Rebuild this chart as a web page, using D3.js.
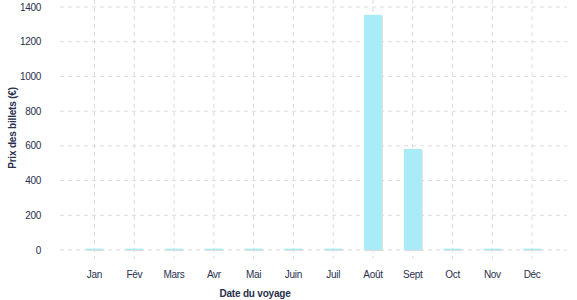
<!doctype html>
<html>
<head>
<meta charset="utf-8">
<script src="https://d3js.org/d3.v7.min.js"></script>
<style>
body { margin: 0; background: #fff; }
text { font-family: "Liberation Sans", Arial, sans-serif; fill: #28304d; }
</style>
</head>
<body>
<svg id="chart" width="577" height="300"></svg>
<script>
// data
var months = ["Jan", "Fév", "Mars", "Avr", "Mai", "Juin", "Juil", "Août", "Sept", "Oct", "Nov", "Déc"];
var prices = [8, 8, 8, 8, 8, 8, 8, 1355, 582, 8, 8, 8];
var yTicks = [0, 200, 400, 600, 800, 1000, 1200, 1400];

var svg = d3.select("#chart");

var x = d3.scaleBand().domain(months).range([74.6, 552]).paddingInner(0.55).paddingOuter(0.275);
var y = d3.scaleLinear().domain([0, 1400]).range([250, 7]);

// grid
var grid = svg.append("g");
grid.selectAll(".hg").data(yTicks).enter().append("line")
  .attr("x1", 60).attr("x2", 567)
  .attr("y1", function(d) { return y(d); }).attr("y2", function(d) { return y(d); })
  .style("stroke", "#dcdcdc").style("stroke-dasharray", "4,4");
grid.selectAll(".vg").data(months).enter().append("line")
  .attr("x1", function(d) { return x(d) + x.bandwidth() / 2; })
  .attr("x2", function(d) { return x(d) + x.bandwidth() / 2; })
  .attr("y1", 0).attr("y2", 259)
  .style("stroke", "#dcdcdc").style("stroke-dasharray", "4,4");

// bars (with a little grey shadow)
var bars = svg.append("g");
bars.selectAll(".sh").data(prices).enter().append("rect")
  .attr("x", function(d, i) { return x(months[i]) + 1; })
  .attr("y", function(d) { return y(d) + 1; })
  .attr("width", x.bandwidth())
  .attr("height", function(d) { return y(0) - y(d); })
  .style("fill", "#dddddd");
bars.selectAll(".bar").data(prices).enter().append("rect")
  .attr("x", function(d, i) { return x(months[i]); })
  .attr("y", function(d) { return y(d); })
  .attr("width", x.bandwidth())
  .attr("height", function(d) { return y(0) - y(d); })
  .style("fill", "#a9ecf8");

// y tick labels
svg.append("g").selectAll("text").data(yTicks).enter().append("text")
  .attr("x", 41).attr("y", function(d) { return y(d) + 3.5; })
  .attr("text-anchor", "end")
  .style("font-size", "10px").style("letter-spacing", "-0.3px")
  .text(function(d) { return d; });

// x tick labels
svg.append("g").selectAll("text").data(months).enter().append("text")
  .attr("x", function(d) { return x(d) + x.bandwidth() / 2; })
  .attr("y", 278)
  .attr("text-anchor", "middle")
  .style("font-size", "10px").style("letter-spacing", "-0.3px")
  .text(function(d) { return d; });

// axis titles
svg.append("text")
  .attr("x", 255).attr("y", 297)
  .attr("text-anchor", "middle")
  .style("font-size", "10px").style("font-weight", "bold").style("letter-spacing", "-0.2px")
  .text("Date du voyage");

svg.append("text")
  .attr("transform", "translate(16,128) rotate(-90)")
  .attr("text-anchor", "middle")
  .style("font-size", "10px").style("font-weight", "bold").style("letter-spacing", "-0.2px")
  .text("Prix des billets (€)");
</script>
</body>
</html>
